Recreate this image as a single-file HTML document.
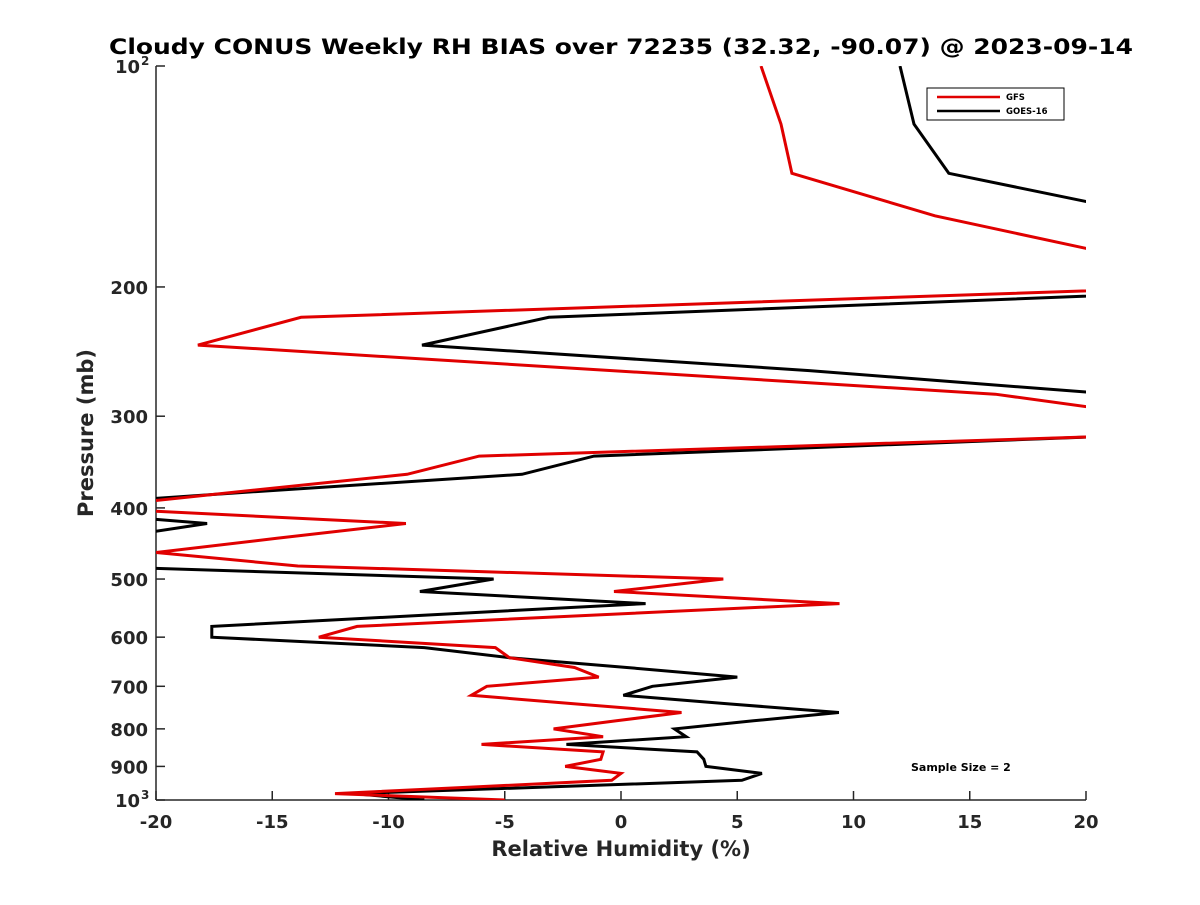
<!DOCTYPE html>
<html><head><meta charset="utf-8"><style>
body{margin:0;background:#fff;}
svg text{font-family:"DejaVu Sans","Liberation Sans",sans-serif;font-weight:bold;fill:#262626;}
</style></head><body>
<svg id="chart" width="1200" height="900" xmlns="http://www.w3.org/2000/svg">
<rect width="1200" height="900" fill="#fff"/>
<defs><clipPath id="plotclip"><rect x="156" y="66" width="930" height="734"/></clipPath></defs>
<text x="621" y="54" font-size="21" text-anchor="middle" textLength="1024" lengthAdjust="spacingAndGlyphs" style="fill:#000">Cloudy CONUS Weekly RH BIAS over 72235 (32.32, -90.07) @ 2023-09-14</text>
<g id="axes"></g>
<g id="series" clip-path="url(#plotclip)"></g>
<g>
<rect x="927" y="88" width="137" height="32" fill="#fff" stroke="#000" stroke-width="1"/>
<line x1="937" y1="97" x2="1000" y2="97" stroke="#e00000" stroke-width="2.5"/>
<text x="1006" y="100" font-size="8.5" style="fill:#000">GFS</text>
<line x1="937" y1="111" x2="1000" y2="111" stroke="#000" stroke-width="2.5"/>
<text x="1006" y="114" font-size="8.5" style="fill:#000">GOES-16</text>
</g>
<text x="911" y="771" font-size="11" style="fill:#000">Sample Size = 2</text>
<text x="621" y="856" font-size="21" text-anchor="middle">Relative Humidity (%)</text>
<text x="0" y="0" font-size="21" text-anchor="middle" transform="translate(93,433) rotate(-90)">Pressure (mb)</text>
</svg>
<script>
const pressures=[100,120,140,160,180,200,220,240,260,280,300,320,340,360,380,400,420,440,460,480,500,520,540,560,580,600,620,640,660,680,700,720,740,760,780,800,820,840,860,880,900,920,940,960,980,1000];
const gfsBias=[6.02,6.88,7.35,13.5,21,25,-13.76,-18.2,-0.4,16.1,23,20.3,-6.1,-9.2,-16.4,-23,-9.25,-14.8,-20,-13.9,4.4,-0.3,9.4,-1.3,-11.35,-13.0,-5.4,-4.8,-2.0,-0.96,-5.77,-6.44,-1.9,2.6,-0.2,-2.9,-0.77,-6.0,-0.77,-0.87,-2.4,0.0,-0.4,-6.35,-12.3,-5.0];
const goesBias=[12.0,12.6,14.1,23,30,30,-3.1,-8.56,8.1,21.2,30,20.3,-1.16,-4.26,-15.7,-26,-17.8,-22,-23,-23.2,-5.48,-8.65,1.06,-8.5,-17.6,-17.6,-8.46,-4.8,0.25,5.0,1.35,0.1,4.7,9.37,5.7,2.3,2.8,-2.35,3.27,3.56,3.65,6.06,5.2,-3.2,-11.5,-8.46];
const xTicks=[-20,-15,-10,-5,0,5,10,15,20];
const yTicks=[100,200,300,400,500,600,700,800,900,1000];
const yTickLabels=["10|2","200","300","400","500","600","700","800","900","10|3"];
const NS="http://www.w3.org/2000/svg";
const L=156,R=1086,T=66,B=800;
function xs(v){return L+(v+20)/40*(R-L);}
function ys(p){return T+Math.log10(p/100)*(B-T);}
function mk(tag,attrs,parent){const e=document.createElementNS(NS,tag);for(const k in attrs)e.setAttribute(k,attrs[k]);parent.appendChild(e);return e;}
const axes=document.getElementById('axes');
const xa=mk('line',{x1:L,y1:B,x2:R,y2:B,stroke:'#262626','stroke-width':1.5},axes);


const ya=mk('line',{x1:L,y1:T,x2:L,y2:B,stroke:'#262626','stroke-width':1.5},axes);


xTicks.forEach(v=>{
 const x=xs(v);
 mk('line',{x1:x,y1:B,x2:x,y2:B-9,stroke:'#262626','stroke-width':1.5},axes);
 const t=mk('text',{x:x,y:B+28,'font-size':18,'text-anchor':'middle'},axes);
 t.textContent=String(v);
 
 
});
yTicks.forEach((p,i)=>{
 const y=ys(p);
 mk('line',{x1:L,y1:y,x2:L+9,y2:y,stroke:'#262626','stroke-width':1.5},axes);
 const lab=yTickLabels[i];
 if(lab.indexOf('|')>=0){
  const parts=lab.split('|');
  const t=mk('text',{x:L-16,y:y+7,'font-size':18,'text-anchor':'end'},axes);
  t.textContent=parts[0];
  
  
  const s=mk('text',{x:L-15,y:y-1,'font-size':12,'text-anchor':'start'},axes);
  s.textContent=parts[1];
  
  
 } else {
  const t=mk('text',{x:L-8,y:y+7,'font-size':18,'text-anchor':'end'},axes);
  t.textContent=lab;
  
  
 }
});
const series=document.getElementById('series');
function drawLine(vals,color,name){
 const pts=vals.map((v,i)=>xs(v).toFixed(1)+','+ys(pressures[i]).toFixed(1)).join(' ');
 const pl=mk('polyline',{points:pts,fill:'none',stroke:color,'stroke-width':3,'stroke-linejoin':'miter'},series);
 
 
}
drawLine(goesBias,'#000','goes16-line');
drawLine(gfsBias,'#e00000','gfs-line');
</script>
</body></html>
